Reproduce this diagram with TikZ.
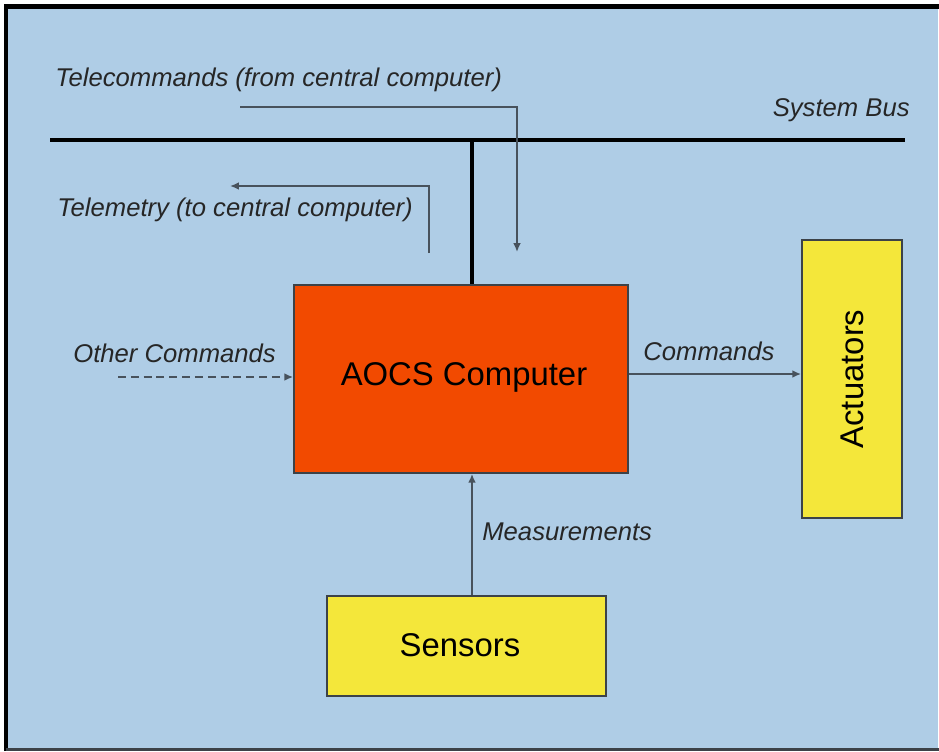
\documentclass[tikz,border=0pt]{standalone}
\usepackage{fontspec}
\setmainfont{Liberation Sans}
\usetikzlibrary{arrows.meta}
\definecolor{skyblue}{RGB}{175,205,230}
\definecolor{aocsred}{RGB}{242,74,0}
\definecolor{boxyellow}{RGB}{244,231,58}
\definecolor{edgegray}{RGB}{60,66,72}
\definecolor{wiregray}{RGB}{72,82,92}
\begin{document}
\begin{tikzpicture}[x=0.02cm, y=-0.02cm,
    block/.style={draw=edgegray, line width=1pt, inner sep=0pt, font=\fontsize{18.7}{22}\selectfont},
    lbl/.style={inner sep=0pt, text=black!85, font=\fontsize{14.6}{17}\selectfont\itshape},
    wire/.style={draw=wiregray, line width=1.1pt},
    tip/.style={-{Latex[length=5pt,width=4.4pt]}},
    bus/.style={draw=black, line width=2.6pt}]
  \useasboundingbox (0,0) rectangle (939,751);
  % frame and background
  \fill [skyblue] (6,7) rectangle (938,749);
  \draw [black, line width=2.3pt] (6,751) -- (6,6.5) -- (939,6.5);
  \draw [edgegray, line width=1.6pt] (6,749.5) -- (939,749.5);
  % blocks
  \node [block, fill=aocsred, minimum width=6.68cm, minimum height=3.76cm] (aocs) at (461,379) {};
  \node [font=\fontsize{18.7}{22}\selectfont] (aocstext) at (464,377) {AOCS Computer};
  \node [block, fill=boxyellow, minimum width=2cm, minimum height=5.56cm] (act) at (852,379) {};
  \node [rotate=90, font=\fontsize{18.7}{22}\selectfont] (acttext) at (act.center) {Actuators};
  \node [block, fill=boxyellow, minimum width=5.58cm, minimum height=2cm] (sens) at (466.5,646) {};
  \node [font=\fontsize{18.7}{22}\selectfont] (senstext) at (460,645) {Sensors};
  % system bus
  \coordinate (busw) at (50,140);
  \coordinate (buse) at (905,140);
  \coordinate (busj) at (472,140);
  \draw [bus] (busw) -- (buse);
  \draw [bus] (busj) -- (busj |- aocs.north);
  % telecommands and telemetry
  \coordinate (tcin) at (240,107);
  \coordinate (tcout) at (517,252);
  \coordinate (tmin) at (429,253);
  \coordinate (tmout) at (230,186);
  \draw [wire, tip] (tcin) -| (tcout);
  \draw [wire, tip] (tmin) |- (tmout);
  % other commands
  \coordinate (ocin) at (118,377);
  \draw [wire, dash pattern=on 4.5pt off 2.8pt, tip] (ocin) -- (ocin -| aocs.west);
  \draw [wire, tip] (aocs.east |- 0,374) -- (act.west |- 0,374);
  \draw [wire, tip] (sens.north -| busj) -- (busj |- aocs.south);
  % labels
  \node [lbl, anchor=base west] (tclbl) at (55,86) {Telecommands (from central computer)};
  \node [lbl, anchor=base east] (buslbl) at (910,116) {System Bus};
  \node [lbl, anchor=base west] (tmlbl) at (57,216) {Telemetry (to central computer)};
  \node [lbl, anchor=base west] (oclbl) at (73,362) {Other Commands};
  \node [lbl, anchor=base west] (cmdlbl) at (643,360) {Commands};
  \node [lbl, anchor=base west] (measlbl) at (482,540) {Measurements};
\end{tikzpicture}
\end{document}
